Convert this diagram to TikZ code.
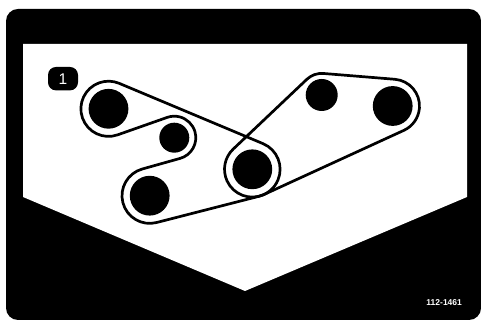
\documentclass[tikz,border=0pt]{standalone}
\usepackage{fontspec}
\setmainfont{Liberation Sans}
\usetikzlibrary{calc}
\tikzset{
  panel/.style={fill=black,draw=none},
  window/.style={fill=white,draw=none},
  pulley/.style={fill=black,draw=none},
  belt/.style={draw=black,line width=2.7pt,line join=round},
  tag/.style={fill=black,rounded corners=8pt,minimum width=30pt,minimum height=23.4pt,inner sep=0pt,text=white,font=\fontsize{15.5}{15.5}\selectfont},
  partno/.style={text=white,inner sep=0pt,font=\fontsize{8.5}{8.5}\selectfont\bfseries}
}
% pulley centres (y up) and belt radii
\def\Ax{108.5}\def\Ay{211.2}\def\Ar{27.6}
\def\Bx{174.3}\def\By{182.3}\def\Br{21.5}
\def\Cx{149.7}\def\Cy{124.3}\def\Cr{27.7}
\def\Dx{252.3}\def\Dy{150.7}\def\Dr{27.8}
\def\Ex{321.7}\def\Ey{225}\def\Er{21.6}
\def\Fx{392.7}\def\Fy{214}\def\Fr{26.8}
% #1..#3 = centre and signed radius of first circle, #4..#6 = second, #7 = result:
% direction from centre to tangent point of the common tangent
\newcommand\normang[7]{\pgfmathsetmacro#7{atan2((#5)-(#2),(#4)-(#1))+acos(((#3)-(#6))/veclen((#4)-(#1),(#5)-(#2)))}}
% arc end angle: clockwise (#3=-1) or counter-clockwise (#3=1) from #1 to #2
\newcommand\arcend[4]{\pgfmathsetmacro#4{#1+#3*mod(#3*(#2-(#1))+720,360)}}
\begin{document}
\begin{tikzpicture}[x=1pt,y=1pt]
\useasboundingbox (0,0) rectangle (481,320);
% black plate with rounded corners
\fill[panel,rounded corners=12pt] (6,0) rectangle (481,311);
% white pentagon window
\fill[window] (23,276) -- (467,276) -- (467,123) -- (245,29) -- (23,123) -- cycle;
% pulleys
\fill[pulley] (\Ax,\Ay) circle[radius=19.9];
\fill[pulley] (\Bx,\By) circle[radius=15];
\fill[pulley] (\Cx,\Cy) circle[radius=19.9];
\fill[pulley] (\Dx,\Dy) circle[radius=19.9];
\fill[pulley] (\Ex,\Ey) circle[radius=16];
\fill[pulley] (\Fx,\Fy) circle[radius=19.9];
% belt 1: A(cw) -> D(cw) -> C(cw) -> B(ccw) -> A
\normang{\Ax}{\Ay}{\Ar}{\Dx}{\Dy}{\Dr}{\nAD}
\normang{\Dx}{\Dy}{\Dr}{\Cx}{\Cy}{\Cr}{\nDC}
\normang{\Cx}{\Cy}{\Cr}{\Bx}{\By}{-\Br}{\nCB}
\normang{\Bx}{\By}{-\Br}{\Ax}{\Ay}{\Ar}{\nBA}
\arcend{\nAD}{\nDC}{-1}{\eD}
\arcend{\nDC}{\nCB}{-1}{\eC}
\pgfmathsetmacro\sB{\nCB+180}
\pgfmathsetmacro\tB{\nBA+180}
\arcend{\sB}{\tB}{1}{\eB}
\arcend{\nBA}{\nAD}{-1}{\eA}
\draw[belt] ($(\Ax,\Ay)+(\nAD:\Ar)$)
  -- ($(\Dx,\Dy)+(\nAD:\Dr)$) arc[start angle=\nAD,end angle=\eD,radius=\Dr]
  -- ($(\Cx,\Cy)+(\nDC:\Cr)$) arc[start angle=\nDC,end angle=\eC,radius=\Cr]
  -- ($(\Bx,\By)+(\sB:\Br)$) arc[start angle=\sB,end angle=\eB,radius=\Br]
  -- ($(\Ax,\Ay)+(\nBA:\Ar)$) arc[start angle=\nBA,end angle=\eA,radius=\Ar] -- cycle;
% belt 2: D(cw) -> E(cw) -> F(cw) -> D
\normang{\Dx}{\Dy}{\Dr}{\Ex}{\Ey}{\Er}{\nDE}
\normang{\Ex}{\Ey}{\Er}{\Fx}{\Fy}{\Fr}{\nEF}
\normang{\Fx}{\Fy}{\Fr}{\Dx}{\Dy}{\Dr}{\nFD}
\arcend{\nDE}{\nEF}{-1}{\eE}
\arcend{\nEF}{\nFD}{-1}{\eF}
\arcend{\nFD}{\nDE}{-1}{\eDD}
\draw[belt] ($(\Dx,\Dy)+(\nDE:\Dr)$)
  -- ($(\Ex,\Ey)+(\nDE:\Er)$) arc[start angle=\nDE,end angle=\eE,radius=\Er]
  -- ($(\Fx,\Fy)+(\nEF:\Fr)$) arc[start angle=\nEF,end angle=\eF,radius=\Fr]
  -- ($(\Dx,\Dy)+(\nFD:\Dr)$) arc[start angle=\nFD,end angle=\eDD,radius=\Dr] -- cycle;
% labels
\node[tag] (tagone) at (63,241.3) {1};
\node[partno] (part) at (444.2,17.4) {112-1461};
\end{tikzpicture}
\end{document}
